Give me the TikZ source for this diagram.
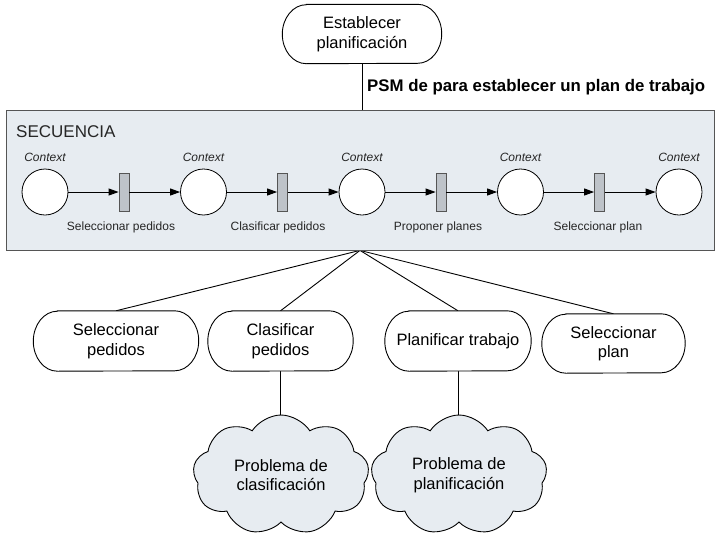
\documentclass[tikz,border=0pt]{standalone}
\usepackage{fontspec}
\setmainfont{Liberation Sans}
\usetikzlibrary{arrows.meta,shapes.symbols}
\pgfdeclarelayer{bg}
\pgfsetlayers{bg,main}
\definecolor{boxfill}{HTML}{E7ECF1}
\definecolor{trfill}{HTML}{BEC3C9}
\definecolor{boxline}{HTML}{555555}
\newcommand\taskbox[6]{% name, x, y, width, height, text
  \path (#2,#3) node[minimum width=#4, minimum height=#5, inner sep=0pt] (#1) {};
  \draw[taskline]
    ([xshift=24pt]#1.north west) -- ([xshift=-24pt]#1.north east)
    arc[start angle=90, end angle=-90, x radius=24pt, y radius=0.5*#5]
    -- ([xshift=24pt]#1.south west)
    arc[start angle=270, end angle=90, x radius=24pt, y radius=0.5*#5]
    -- cycle;
  \node[tasktext] at (#1.center) {#6};}
\begin{document}
\begin{tikzpicture}[x=1pt,y=-1pt,
  taskline/.style={line width=0.9pt, fill=white},
  tasktext/.style={align=center, inner sep=0pt, font=\fontsize{16.5}{19.5}\selectfont},
  place/.style={circle, draw, line width=0.8pt, fill=white, minimum size=46pt, inner sep=0pt},
  trans/.style={rectangle, draw=boxline, line width=0.8pt, fill=trfill, minimum width=10pt,
    minimum height=38pt, inner sep=0pt},
  ctx/.style={font=\itshape\fontsize{12}{14}\selectfont, inner sep=0pt, text=black!85},
  tlbl/.style={font=\fontsize{12}{14}\selectfont, inner sep=0pt, text=black!85},
  arr/.style={line width=0.9pt, -{Triangle[length=10pt,width=7pt]}},
  conn/.style={line width=0.9pt},
  cloudy/.style={cloud, cloud puffs=9, cloud puff arc=115, cloud ignores aspect, draw,
    line width=0.9pt, fill=boxfill, inner sep=0pt, align=center,
    font=\fontsize{16.5}{19.5}\selectfont}
]
\useasboundingbox (0,0) rectangle (720,533);

% top task
\taskbox{top}{362}{34}{159pt}{59pt}{Establecer\\planificación}

% sequence box
\node[draw=boxline, fill=boxfill, line width=0.8pt, minimum width=708pt, minimum height=140pt,
  inner sep=0pt] (seq) at (360,180) {};
\node[anchor=base west, inner sep=0pt, font=\fontsize{17}{20}\selectfont, text=black!85] (seqlbl) at (16,137) {SECUENCIA};

\node[anchor=west, inner sep=0pt, font=\bfseries\fontsize{16.8}{20}\selectfont] (psm) at (367,87) {PSM de para establecer un plan de trabajo};

% places
\foreach \i/\x in {1/45,2/203.5,3/362,4/520.5,5/679}{
  \node[place] (p\i) at (\x,192) {};
  \node[ctx] (c\i) at (\x,157) {Context};
}
% transitions
\node[trans] (t1) at (124,192) {};
\node[trans] (t2) at (282.5,192) {};
\node[trans] (t3) at (441,192) {};
\node[trans] (t4) at (599.5,192) {};
\node[tlbl] (l1) at (121,227) {Seleccionar pedidos};
\node[tlbl] (l2) at (278,227) {Clasificar pedidos};
\node[tlbl] (l3) at (438,227) {Proponer planes};
\node[tlbl] (l4) at (598,227) {Seleccionar plan};

\draw[arr] (p1) -- (t1);
\draw[arr] (t1) -- (p2);
\draw[arr] (p2) -- (t2);
\draw[arr] (t2) -- (p3);
\draw[arr] (p3) -- (t3);
\draw[arr] (t3) -- (p4);
\draw[arr] (p4) -- (t4);
\draw[arr] (t4) -- (p5);

% bottom tasks
\taskbox{b1}{116}{341}{165pt}{60pt}{Seleccionar\\pedidos}
\taskbox{b2}{280.5}{341}{145pt}{60pt}{Clasificar\\pedidos}
\taskbox{b3}{458}{341}{146pt}{60pt}{Planificar trabajo}
\taskbox{b4}{613.5}{343.5}{143pt}{59pt}{Seleccionar\\plan}

% clouds
\node[cloudy, minimum width=176pt, minimum height=120pt] (cl1) at (281,475) {Problema de\\clasificación};
\node[cloudy, minimum width=176pt, minimum height=120pt] (cl2) at (459,475) {Problema de\\planificación};

\begin{pgfonlayer}{bg}
\draw[conn] (top.south) -- (top.south |- seq.north);
\draw[conn] (seq.south) -- (b1.north);
\draw[conn] (seq.south) -- (b2.north);
\draw[conn] (seq.south) -- (b3.north);
\draw[conn] (seq.south) -- (b4.north);
\draw[conn] (b2.south) -- (b2.south |- cl1.center);
\draw[conn] (b3.south) -- (b3.south |- cl2.center);
\end{pgfonlayer}
\end{tikzpicture}
\end{document}
